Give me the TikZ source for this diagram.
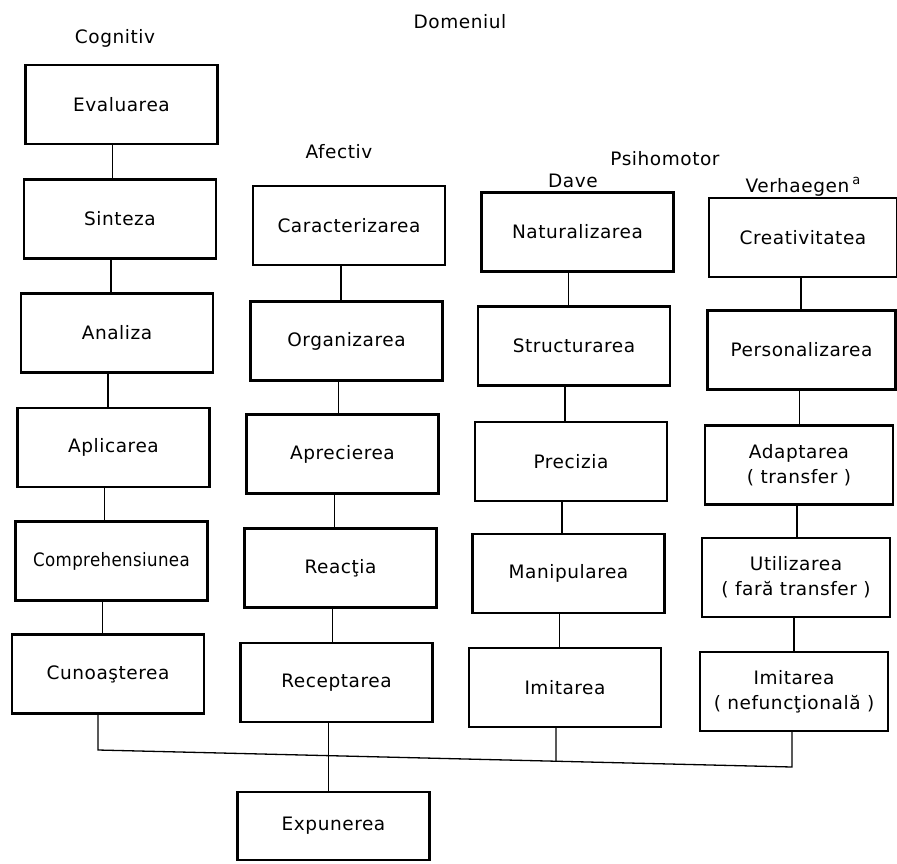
\documentclass[tikz,border=0pt]{standalone}
\usepackage{fontspec}
\setmainfont{DejaVu Sans}[LetterSpace=3]
\newfontfamily\condfont{DejaVu Sans Condensed}[LetterSpace=2]
\usetikzlibrary{calc}
\begin{document}
\begin{tikzpicture}[x=1pt,y=-1pt,
  box/.style={draw, line width=2.4pt, minimum width=192pt, minimum height=79pt,
    inner sep=0pt, align=center, font=\fontsize{18.5}{25}\selectfont},
  box4/.style={box, minimum width=188pt},
  lbl/.style={anchor=base, inner sep=0pt, font=\fontsize{18.5}{20}\selectfont},
  link/.style={line width=1.3pt}]
\useasboundingbox (0,0) rectangle (897,863);
% headings
\node[lbl] (dom) at (460,28) {Domeniul};
\node[lbl] (cog) at (115,43) {Cognitiv};
\node[lbl] (afe) at (339,158) {Afectiv};
\node[lbl] (psi) at (665,165) {Psihomotor};
\node[lbl] (dav) at (573,187) {Dave};
\node[lbl] (ver) at (803,192) {Verhaegen\,\raisebox{8pt}{\fontsize{13}{13}\selectfont a}};
% column 1 - Cognitiv
\node[box] (ev) at (121.5,104.5) {Evaluarea};
\node[box] (si) at (120,219) {Sinteza};
\node[box] (an) at (117,333) {Analiza};
\node[box] (ap) at (113.5,447.5) {Aplicarea};
\node[box, font=\condfont\fontsize{18.5}{24}\selectfont] (co) at (111.5,561) {Comprehensiunea};
\node[box] (cu) at (108,674) {Cunoa\c{s}terea};
% column 2 - Afectiv
\node[box] (ca) at (349,225.5) {Caracterizarea};
\node[box] (org) at (346.5,341) {Organizarea};
\node[box] (apr) at (342.5,454) {Aprecierea};
\node[box] (rea) at (340.5,568) {Reac\c{t}ia};
\node[box] (rec) at (336.5,682.5) {Receptarea};
% column 3 - Dave
\node[box] (na) at (577.5,232) {Naturalizarea};
\node[box] (st) at (574,346) {Structurarea};
\node[box] (pr) at (571,461.5) {Precizia};
\node[box] (ma) at (568.5,573.5) {Manipularea};
\node[box] (im) at (565,687.5) {Imitarea};
% column 4 - Verhaegen
\node[box4] (cr) at (803,237.5) {Creativitatea};
\node[box4] (pe) at (801.5,350) {Personalizarea};
\node[box4] (ad) at (799,465) {Adaptarea\\( transfer )};
\node[box4] (ut) at (796,577.5) {Utilizarea\\( far\u{a} transfer )};
\node[box4] (imn) at (794,691.5) {Imitarea\\( nefunc\c{t}ional\u{a} )};
% bottom
\node[box, minimum height=68pt] (ex) at (333.5,826) {Expunerea};
% connectors (vertical)
\foreach \a/\b in {ev/si, si/an, an/ap, ap/co, co/cu}
  \draw[link] ([xshift=-9pt]\a.south) -- ([xshift=-9pt]\a.south |- \b.north);
\foreach \a/\b in {ca/org, org/apr, apr/rea, rea/rec}
  \draw[link] ([xshift=-8pt]\a.south) -- ([xshift=-8pt]\a.south |- \b.north);
\foreach \a/\b in {na/st, st/pr, pr/ma, ma/im}
  \draw[link] ([xshift=-9pt]\a.south) -- ([xshift=-9pt]\a.south |- \b.north);
\foreach \a/\b in {cr/pe, pe/ad, ad/ut, ut/imn}
  \draw[link] ([xshift=-2pt]\a.south) -- ([xshift=-2pt]\a.south |- \b.north);
% bus
\coordinate (busL) at (98,750);
\coordinate (busR) at (792,767);
\draw[link] ([xshift=-10pt]cu.south) -- (busL) -- (busR) -- ([xshift=-2pt]imn.south);
\draw[link] ([xshift=-8pt]rec.south) -- ([xshift=-8pt]rec.south |- ex.north);
\draw[link] ([xshift=-9pt]im.south) -- ($(busL)!0.6599!(busR)$);
\end{tikzpicture}
\end{document}
